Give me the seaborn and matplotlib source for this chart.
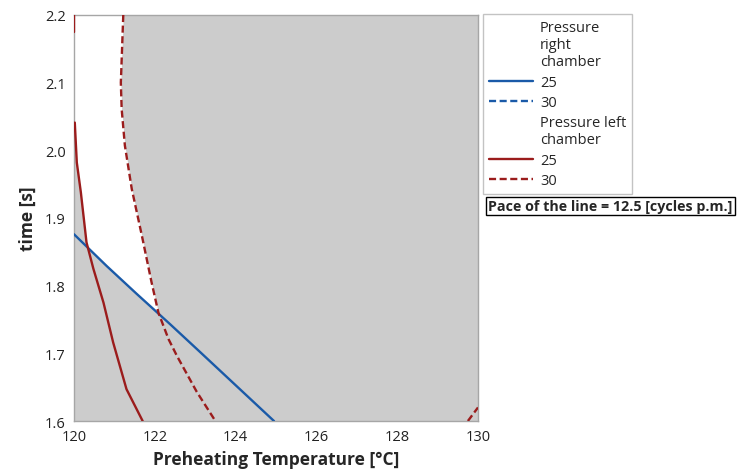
import numpy as np
import matplotlib
matplotlib.use("Agg")
import matplotlib.pyplot as plt
import seaborn as sns
from matplotlib.lines import Line2D

# contour lines (x = preheating temp, y = time)
right25_x = [120.0, 120.81, 121.55, 122.38, 123.12, 124.95]
right25_y = [1.876, 1.829, 1.788, 1.743, 1.702, 1.600]

left25_x = [120.02, 120.07, 120.17, 120.31, 120.48, 120.73, 120.97, 121.30, 121.70]
left25_y = [2.041, 1.982, 1.938, 1.864, 1.825, 1.775, 1.716, 1.647, 1.600]
left25_top_x = [120.0, 120.0]
left25_top_y = [2.200, 2.175]

left30_x = [121.22, 121.16, 121.18, 121.26, 121.43, 121.68, 121.92, 122.09,
            122.34, 122.55, 123.04, 123.50]
left30_y = [2.200, 2.100, 2.061, 2.007, 1.943, 1.874, 1.805, 1.760,
            1.721, 1.696, 1.643, 1.600]
left30_corner_x = [129.75, 130.0]
left30_corner_y = [1.600, 1.620]

x_ticks = [120, 122, 124, 126, 128, 130]
y_ticks = [1.6, 1.7, 1.8, 1.9, 2.0, 2.1, 2.2]

blue = "#1a5aa8"
red = "#9b1c1c"
gray_fill = "#cccccc"
frame = "#a6a6a6"

sns.set_theme(style="white")
plt.rcParams["font.family"] = ["Open Sans", "DejaVu Sans"]

fig = plt.figure(figsize=(7.42, 4.77), dpi=100)
ax = fig.add_axes([0.0997, 0.1153, 0.5445, 0.8512])
ax.set_facecolor(gray_fill)

# white feasible region: right of left25, above right25, left of left30
yg = np.linspace(1.6, 2.2, 800)
bx = np.interp(yg, right25_y[::-1], right25_x[::-1])
lx = np.interp(yg, left25_y[::-1], left25_x[::-1])
lx = np.where(yg > left25_y[0], 120.0, lx)
hx = np.interp(yg, left30_y[::-1], left30_x[::-1])
lo = np.maximum(bx, lx)
ax.fill_betweenx(yg, lo, hx, where=hx > lo, color="white", lw=0, zorder=1)

kw = dict(sort=False, estimator=None, ax=ax, linewidth=1.7, zorder=3)
sns.lineplot(x=right25_x, y=right25_y, color=blue, **kw)
sns.lineplot(x=left25_x, y=left25_y, color=red, **kw)
sns.lineplot(x=left25_top_x, y=left25_top_y, color=red, **kw)
sns.lineplot(x=left30_x, y=left30_y, color=red, linestyle=(0, (3, 1.5)), **kw)
sns.lineplot(x=left30_corner_x, y=left30_corner_y, color=red, linestyle=(0, (3, 1.5)), **kw)

ax.set_xlim(120, 130)
ax.set_ylim(1.6, 2.2)
ax.set_xticks(x_ticks)
ax.set_yticks(y_ticks)
ax.set_xticklabels([str(t) for t in x_ticks])
ax.set_yticklabels([f"{t:.1f}" for t in y_ticks])
ax.tick_params(axis="both", direction="out", length=4, width=1, color=frame,
               labelsize=10.5, labelcolor="#222222", pad=2)
for s in ax.spines.values():
    s.set_color(frame)
    s.set_linewidth(1)

ax.set_xlabel("Preheating Temperature [°C]", fontsize=12.5, fontweight="bold", labelpad=4)
ax.set_ylabel("time [s]", fontsize=12.5, fontweight="bold", labelpad=6)

blank = Line2D([], [], color="none")
handles = [
    blank,
    Line2D([], [], color=blue, lw=1.7),
    Line2D([], [], color=blue, lw=1.7, linestyle=(0, (3, 1.5))),
    blank,
    Line2D([], [], color=red, lw=1.7),
    Line2D([], [], color=red, lw=1.7, linestyle=(0, (3, 1.5))),
]
labels = ["Pressure\nright\nchamber", "25", "30", "Pressure left\nchamber", "25", "30"]
leg = fig.legend(handles, labels, loc="upper left", bbox_to_anchor=(0.651, 0.968),
                 frameon=True, fancybox=False, fontsize=10.5, handlelength=3.0,
                 handletextpad=0.5, labelspacing=0.36, borderpad=0.4, borderaxespad=0)
leg.get_frame().set_edgecolor("#b5b5b5")
leg.get_frame().set_linewidth(1)

fig.text(0.658, 0.566, "Pace of the line = 12.5 [cycles p.m.]", fontsize=10.3,
         fontweight="bold", va="center", ha="left",
         bbox=dict(boxstyle="square,pad=0.15", facecolor="white", edgecolor="black", lw=1))

fig.savefig("out.png", dpi=100)
